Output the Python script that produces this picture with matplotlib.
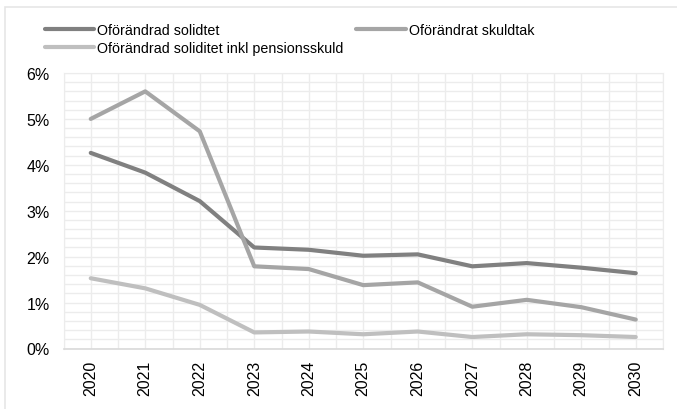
import matplotlib.pyplot as plt
from matplotlib.patches import Rectangle
from matplotlib.ticker import MultipleLocator, FuncFormatter

plt.rcParams['font.family'] = ['Liberation Sans', 'DejaVu Sans']

years = ['2020', '2021', '2022', '2023', '2024', '2025', '2026', '2027', '2028', '2029', '2030']
solidtet = [4.26, 3.83, 3.21, 2.20, 2.15, 2.02, 2.05, 1.79, 1.86, 1.76, 1.64]
skuldtak = [5.00, 5.60, 4.73, 1.79, 1.73, 1.38, 1.44, 0.91, 1.06, 0.90, 0.63]
pension = [1.53, 1.31, 0.95, 0.35, 0.37, 0.31, 0.37, 0.25, 0.31, 0.29, 0.25]

fig = plt.figure(figsize=(6.77, 4.10), dpi=100)
ax = fig.add_axes([63.5 / 677, 1 - 349.5 / 410, (663 - 63.5) / 677, (349.5 - 74) / 410])

# frame around the whole chart
fig.patches.append(Rectangle((5 / 677, -0.1), 1.2, 1.1 - 8 / 410, transform=fig.transFigure,
                             fill=False, edgecolor='#e6e6e6', linewidth=1.2))

x = range(len(years))
lw = 3.0
ax.plot(x, solidtet, color='#808080', lw=lw, label='Oförändrad solidtet', solid_capstyle='round')
ax.plot(x, skuldtak, color='#a5a5a5', lw=lw, label='Oförändrat skuldtak', solid_capstyle='round')
ax.plot(x, pension, color='#bfbfbf', lw=lw, label='Oförändrad soliditet inkl pensionsskuld',
        solid_capstyle='round')

ax.set_xlim(-0.5, len(years) - 0.5)
ax.set_ylim(0, 6)
ax.set_xticks(list(x))
ax.set_xticklabels(years, rotation=90, fontsize=11.5)
ax.set_xticks([i + 0.5 for i in range(-1, len(years))], minor=True)
ax.yaxis.set_major_locator(MultipleLocator(1))
ax.yaxis.set_minor_locator(MultipleLocator(0.2))
ax.yaxis.set_major_formatter(FuncFormatter(lambda v, p: f'{v:.0f}%'))
ax.tick_params(axis='y', labelsize=11.5, length=0, pad=10)
ax.tick_params(axis='x', length=0, pad=8)
ax.tick_params(which='minor', length=0)

ax.grid(True, which='both', color='#ececec', linewidth=1.0)
ax.set_axisbelow(True)
for s in ['left', 'right', 'top']:
    ax.spines[s].set_color('#ececec')
ax.spines['bottom'].set_color('#d9d9d9')
ax.spines['bottom'].set_linewidth(1.2)

handles, labels = ax.get_legend_handles_labels()
order = [0, 2, 1]
leg = fig.legend([handles[i] for i in order], [labels[i] for i in order],
                 loc='upper left', bbox_to_anchor=(45 / 677, 1 - 24 / 410), ncol=2,
                 frameon=False, fontsize=10.3, handlelength=3.45, handletextpad=0.2,
                 columnspacing=0.9, labelspacing=0.28, borderpad=0, borderaxespad=0)

fig.savefig('out.png', dpi=100)
